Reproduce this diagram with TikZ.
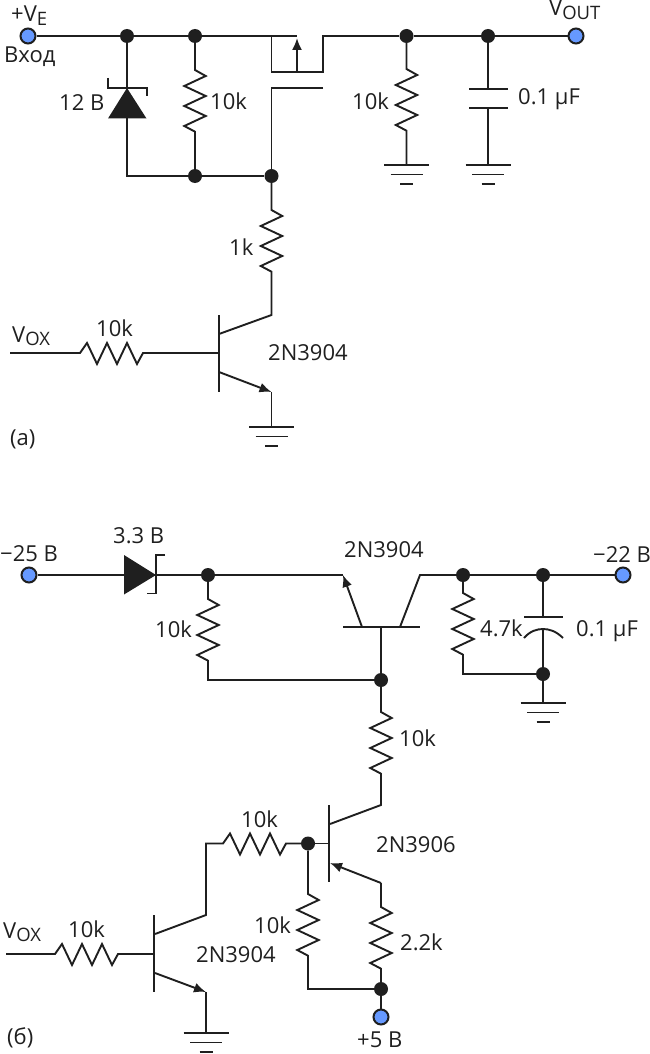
\documentclass[tikz,border=0pt]{standalone}
\usepackage{fontspec}
\setmainfont{Open Sans}
\usetikzlibrary{arrows.meta}
\definecolor{ink}{HTML}{1F1F1F}
\definecolor{term}{HTML}{6699FF}
\newcommand{\sbs}[1]{\raisebox{-0.3ex}{\fontsize{18.5}{18.5}\selectfont #1}}
\newcommand{\zigv}{-- ++(10.7,6) -- ++(-21.4,10) -- ++(21.4,10) -- ++(-21.4,10) -- ++(21.4,10) -- ++(-21.4,10) -- ++(10.7,5.7)}
\newcommand{\zigh}{-- ++(7,-10) -- ++(10,21) -- ++(10,-21) -- ++(10,21) -- ++(10,-21) -- ++(10,21) -- ++(6,-11)}
\tikzset{
  x=1pt,y=-1pt,
  wire/.style={draw=ink,line width=1.9pt,line join=miter},
  jdot/.style={circle,fill=ink,draw=none,minimum size=14pt,inner sep=0pt},
  tdot/.style={circle,fill=term,draw=ink,line width=2pt,minimum size=15pt,inner sep=0pt},
  lbl/.style={anchor=base west,inner sep=0pt,text=ink,font=\fontsize{22}{24}\selectfont},
  tip/.style={-{Latex[length=12pt,width=10pt]}},
  gndsym/.pic={\draw[wire] (-22.5,0)--(22.5,0) (-16,9.5)--(16,9.5) (-6.5,19)--(6.5,19);}
}
\begin{document}
\begin{tikzpicture}[line cap=butt]
\useasboundingbox (0,0) rectangle (650,1054);
% ---------- circuit (a)
\node[tdot] (tve) at (28,36) {};
\node[jdot] (ja1) at (127,36) {};
\node[jdot] (ja2) at (195,36) {};
\node[jdot] (ja3) at (406.5,36) {};
\node[jdot] (ja4) at (488,36) {};
\node[tdot] (tvo) at (576,36) {};
\node[jdot] (ja5) at (195,176) {};
\node[jdot] (ja6) at (271.5,176) {};
\coordinate (zk) at (127,88);
\coordinate (za) at (127,118);
\coordinate (zc) at (127,176);
\coordinate (ms) at (271.5,36);
\coordinate (md) at (323,36);
\coordinate (msb) at (271.5,72);
\coordinate (mdb) at (323,72);
\coordinate (mb) at (297,72);
\coordinate (mbt) at (297,36);
\coordinate (mg) at (271.5,88);
\coordinate (mge) at (323,88);
\coordinate (gc) at (271.5,315);
\coordinate (gb) at (219,353);
\coordinate (ge) at (271.5,392);
\coordinate (gnd1) at (406.5,165);
\coordinate (gnd2) at (488,165);
\coordinate (gnd3) at (271.5,427);
\coordinate (vin1) at (10,353);
\coordinate (cp1) at (488,89);
\coordinate (cp2) at (488,108);

\draw[wire] (tve)--(ja1); \draw[wire] (ja1)--(ja2); \draw[wire] (ja2)--(mbt);
\draw[wire] (ms)--(msb)--(mdb)--(md)--(ja3);
\draw[wire] (ja3)--(ja4); \draw[wire] (ja4)--(tvo);
\draw[wire,tip] (mb)--(297,38);
\draw[wire] (mge)--(mg)--(ja6);
\draw[wire] (ja1)--(zk);
\draw[fill=ink,draw=none] (zk)--(108,118.5)--(146.5,118.5)--cycle;
\draw[wire] (108,78)--(108,88)--(147,88)--(147,96);
\draw[wire] (za)--(zc)--(ja5); \draw[wire] (ja5)--(ja6);
\draw[wire] (ja2)--(195,70) \zigv --(ja5);
\draw[wire] (ja3)--(406.5,69) \zigv --(gnd1);
\draw[wire] (ja4)--(cp1);
\draw[wire] (469,89)--(508,89);
\draw[wire] (469,108)--(508,108);
\draw[wire] (cp2)--(gnd2);
\pic at (gnd1) {gndsym}; \pic at (gnd2) {gndsym}; \pic at (gnd3) {gndsym};
\draw[wire] (ja6)--(271.5,210) \zigv --(gc)--(219,334);
\draw[wire] (219,315)--(219,392);
\draw[wire,tip] (219,372)--(ge);
\draw[wire] (ge)--(gnd3);
\draw[wire] (vin1)--(80,353) \zigh --(gb);

\node[lbl] (l1) at (11,22) {+V\sbs{E}};
\node[lbl] (l2) at (4,63) {Вход};
\node[lbl] (l3) at (59,111) {12 В};
\node[lbl] (l4) at (210,110) {10k};
\node[lbl] (l5) at (352,110) {10k};
\node[lbl] (l6) at (518,105) {0.1 µF};
\node[lbl] (l7) at (549,16) {V\sbs{OUT}};
\node[lbl] (l8) at (229,255) {1k};
\node[lbl] (l9) at (12,342) {V\sbs{OX}};
\node[lbl] (l10) at (96,336) {10k};
\node[lbl] (l11) at (268,360) {2N3904};
\node[lbl] (l12) at (10,445) {(a)};

% ---------- circuit (b)
\node[tdot] (tm25) at (29,575) {};
\node[jdot] (jb1) at (208,575) {};
\node[jdot] (jb2) at (463,575) {};
\node[jdot] (jb3) at (543,575) {};
\node[tdot] (tm22) at (623,575) {};
\node[jdot] (jb4) at (381,680) {};
\node[jdot] (jb5) at (543,674) {};
\node[jdot] (jb6) at (308,843.5) {};
\node[jdot] (jb7) at (381,989) {};
\node[tdot] (tp5) at (381,1017) {};
\coordinate (da) at (124,575);
\coordinate (dk) at (156,575);
\coordinate (qe) at (343,575);
\coordinate (qc) at (420,575);
\coordinate (qbl) at (343,627);
\coordinate (qbr) at (420,627);
\coordinate (qb) at (381,627);
\coordinate (rbl) at (208,680);
\coordinate (r47) at (463,674);
\coordinate (gnd4) at (543,703);
\coordinate (pc) at (381,805);
\coordinate (pe) at (381,883);
\coordinate (pb) at (329,843.5);
\coordinate (r2) at (308,989);
\coordinate (nc) at (206,915);
\coordinate (nt) at (206,843.5);
\coordinate (nb) at (154,954);
\coordinate (ne) at (206,992);
\coordinate (gnd5) at (206,1033);
\coordinate (vin2) at (6,954);

\draw[wire] (tm25)--(da);
\draw[fill=ink,draw=none] (124,555)--(124,594.5)--(156,575)--cycle;
\draw[wire] (165,555)--(156,555)--(156,593.5)--(147,593.5);
\draw[wire] (dk)--(jb1); \draw[wire] (jb1)--(qe);
\draw[wire,tip] (362,627)--(qe);
\draw[wire] (400,627)--(qc)--(jb2);
\draw[wire] (jb2)--(jb3); \draw[wire] (jb3)--(tm22);
\draw[wire] (qbl)--(qbr);
\draw[wire] (qb)--(jb4);
\draw[wire] (jb1)--(208,599) \zigv --(rbl)--(jb4);
\draw[wire] (jb2)--(463,593) \zigv --(r47)--(jb5);
\draw[wire] (jb3)--(543,617);
\draw[wire] (524,617)--(563,617);
\draw[wire] (524,638) .. controls (530,631) and (537,629) .. (543,629) .. controls (549,629) and (556,631) .. (563,638);
\draw[wire] (543,629)--(jb5);
\draw[wire] (jb5)--(gnd4);
\pic at (gnd4) {gndsym};
\draw[wire] (jb4)--(381,712) \zigv --(pc)--(330,824);
\draw[wire] (329,805)--(329,882);
\draw[wire] (jb6)--(pb);
\draw[wire,tip] (pe)--(330,863);
\draw[wire] (pe)--(381,907) \zigv --(jb7);
\draw[wire] (jb7)--(tp5);
\draw[wire] (jb6)--(308,894) \zigv --(r2)--(jb7);
\draw[wire] (155,934)--(nc)--(nt)--(223,843.5) \zigh --(jb6);
\draw[wire] (154,915)--(154,992);
\draw[wire,tip] (155,973)--(ne);
\draw[wire] (ne)--(gnd5);
\pic at (gnd5) {gndsym};
\draw[wire] (vin2)--(55,954) \zigh --(nb);

\node[lbl] (m1) at (0,561) {−25 В};
\node[lbl] (m2) at (113,543) {3.3 В};
\node[lbl] (m3) at (155,637) {10k};
\node[lbl] (m4) at (344,557) {2N3904};
\node[lbl] (m5) at (593,562) {−22 В};
\node[lbl] (m6) at (480,636) {4.7k};
\node[lbl] (m7) at (576,636) {0.1 µF};
\node[lbl] (m8) at (399,746) {10k};
\node[lbl] (m9) at (241,827) {10k};
\node[lbl] (m10) at (376,852) {2N3906};
\node[lbl] (m11) at (254,933) {10k};
\node[lbl] (m12) at (196,962) {2N3904};
\node[lbl] (m13) at (400,950) {2.2k};
\node[lbl] (m14) at (357,1047) {+5 В};
\node[lbl] (m15) at (3,938) {V\sbs{OX}};
\node[lbl] (m16) at (68,937) {10k};
\node[lbl] (m17) at (7,1044) {(б)};
\end{tikzpicture}
\end{document}
